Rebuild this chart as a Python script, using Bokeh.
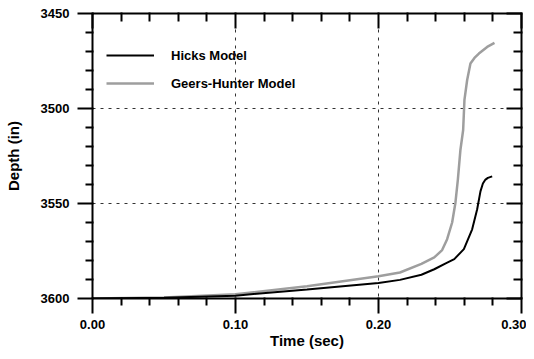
from bokeh.plotting import figure
from bokeh.models import (Range1d, LinearAxis, FixedTicker, Legend, LegendItem,
                          ColumnDataSource, NumeralTickFormatter, CustomJSTickFormatter)
from bokeh.embed import file_html
from bokeh.resources import INLINE

# ---- data ----
hicks_t = [0.0, 0.05, 0.10, 0.15, 0.20, 0.215, 0.23, 0.239, 0.247, 0.253,
           0.2597, 0.2655, 0.269, 0.2713, 0.273, 0.2748, 0.2765, 0.2795]
hicks_d = [3600, 3599.6, 3598.5, 3595.2, 3591.8, 3590.2, 3587.5, 3584.6, 3581.5, 3579.3,
           3574.0, 3563.6, 3553.0, 3543.6, 3539.5, 3537.4, 3536.5, 3535.7]

geers_t = [0.0, 0.05, 0.10, 0.15, 0.20, 0.215, 0.23, 0.239, 0.2445, 0.248, 0.2515,
           0.2538, 0.2555, 0.2573, 0.2592, 0.2601, 0.262, 0.2643, 0.2671, 0.2702,
           0.276, 0.2811]
geers_d = [3600, 3599.5, 3597.8, 3593.5, 3588.3, 3586.3, 3581.8, 3578.4, 3574.5, 3568.8,
           3560.0, 3549.6, 3537.4, 3521.7, 3511.3, 3495.5, 3485.0, 3476.3, 3473.4,
           3471.1, 3467.6, 3465.5]

x_major = [0.0, 0.10, 0.20, 0.30]
x_minor = [0.02, 0.04, 0.06, 0.08, 0.12, 0.14, 0.16, 0.18, 0.22, 0.24, 0.26, 0.28]
y_major = [3450, 3500, 3550, 3600]
y_minor = [3460, 3470, 3480, 3490, 3510, 3520, 3530, 3540,
           3560, 3570, 3580, 3590]

FONT = "Liberation Sans"

p = figure(width=526, height=351, x_range=Range1d(0, 0.30), y_range=Range1d(3600, 3450),
           output_backend="svg", toolbar_location=None,
           min_border_left=92, min_border_right=5, min_border_top=13, min_border_bottom=52)
p.outline_line_color = None
p.border_fill_color = "white"

p.xaxis.ticker = FixedTicker(ticks=x_major, minor_ticks=x_minor)
p.yaxis.ticker = FixedTicker(ticks=y_major, minor_ticks=y_minor)
p.xaxis.axis_label = "Time (sec)"
p.yaxis.axis_label = "Depth (in)"
p.xaxis.formatter = NumeralTickFormatter(format="0.00")
p.yaxis.formatter = NumeralTickFormatter(format="0")

for ax in list(p.xaxis) + list(p.yaxis):
    ax.axis_line_width = 2
    ax.axis_line_color = "black"
    ax.major_tick_line_color = "black"
    ax.minor_tick_line_color = "black"
    ax.major_tick_line_width = 2
    ax.minor_tick_line_width = 2
    ax.major_tick_out = 15
    ax.major_tick_in = 1
    ax.minor_tick_out = 7
    ax.minor_tick_in = 1
    ax.major_label_text_font = FONT
    ax.major_label_text_font_style = "bold"
    ax.major_label_text_font_size = "13px"
    ax.major_label_text_color = "black"
    ax.axis_label_text_font = FONT
    ax.axis_label_text_font_style = "bold"
    ax.axis_label_text_font_size = "15px"
    ax.axis_label_text_color = "black"

p.xaxis.major_label_standoff = 6
p.xaxis.axis_label_standoff = 0
p.yaxis.major_label_standoff = 8
p.yaxis.axis_label_standoff = 16


def mirror_axis(ticks, minor):
    return LinearAxis(ticker=FixedTicker(ticks=ticks, minor_ticks=minor),
                      formatter=CustomJSTickFormatter(code="return ''"),
                      major_label_standoff=0, major_label_text_font_size="1px",
                      axis_line_width=2, axis_line_color="black",
                      major_tick_line_width=2, minor_tick_line_width=2,
                      major_tick_line_color="black", minor_tick_line_color="black",
                      major_tick_out=1, major_tick_in=15, minor_tick_out=1, minor_tick_in=8)


p.add_layout(mirror_axis(x_major, x_minor), "above")
p.add_layout(mirror_axis(y_major, y_minor), "right")

# grid follows the axis tickers; lines at the frame edges are hidden by the axes
for g in list(p.xgrid) + list(p.ygrid):
    g.grid_line_color = "#333333"
    g.grid_line_dash = "3 5"
    g.grid_line_width = 1

src_h = ColumnDataSource(dict(t=hicks_t, d=hicks_d))
src_g = ColumnDataSource(dict(t=geers_t, d=geers_d))

rg = p.line("t", "d", source=src_g, line_color="#9e9e9e", line_width=2.5)
rh = p.line("t", "d", source=src_h, line_color="black", line_width=2)

legend = Legend(items=[LegendItem(label="Hicks Model", renderers=[rh]),
                       LegendItem(label="Geers-Hunter Model", renderers=[rg])],
                location=(14, 205), margin=0, padding=0, spacing=8,
                glyph_width=48, glyph_height=20, label_height=20, label_standoff=17,
                border_line_color=None, background_fill_alpha=0,
                label_text_font=FONT, label_text_font_style="bold",
                label_text_font_size="13px", label_text_color="black")
p.add_layout(legend, "center")

open("out.html", "w").write(file_html(p, INLINE))
